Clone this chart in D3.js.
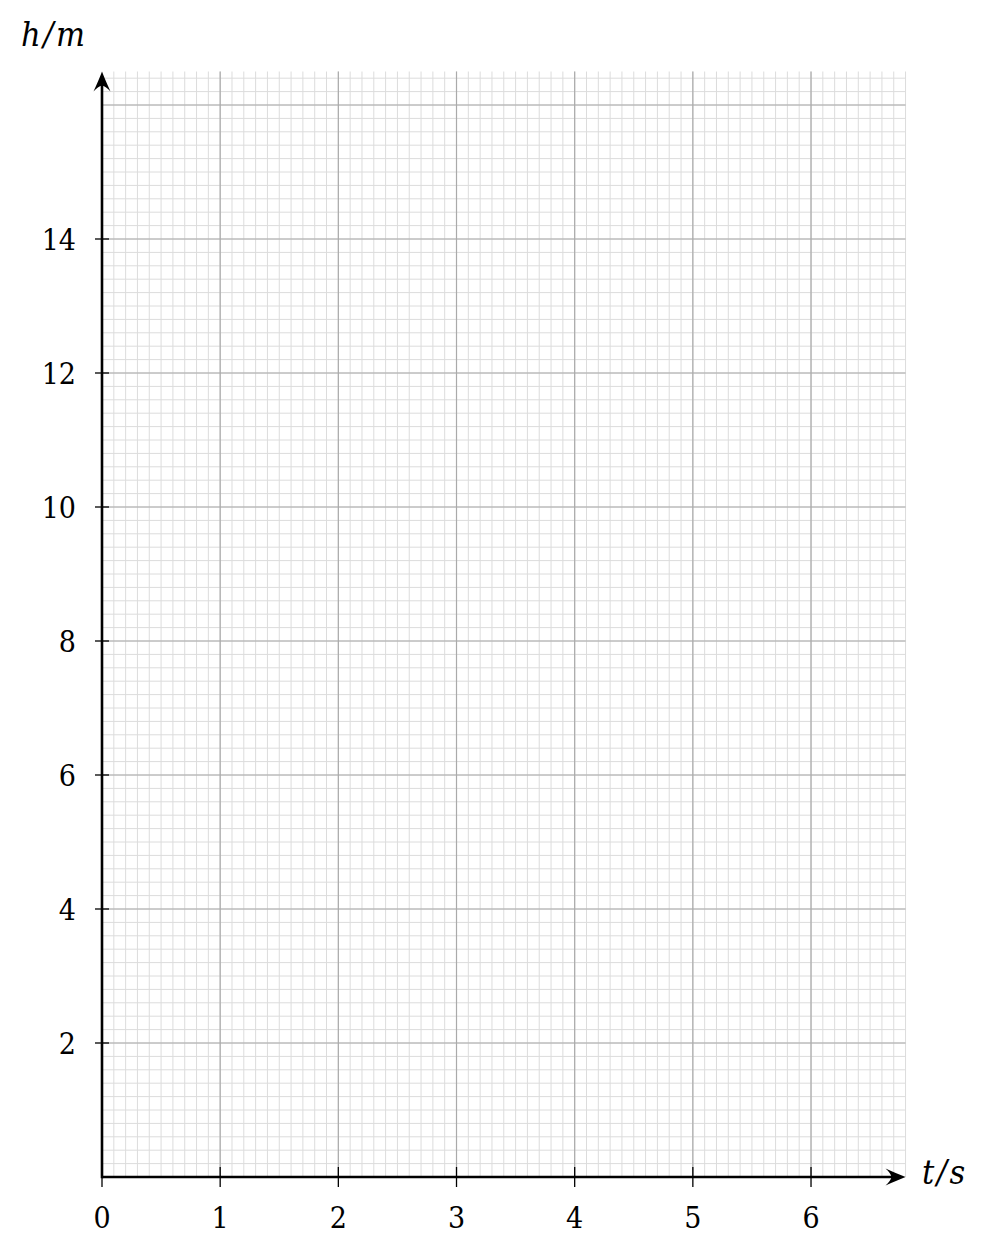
<!DOCTYPE html>
<html><head><meta charset="utf-8">
<script src="https://cdn.jsdelivr.net/npm/d3@7"></script>
<style>body{margin:0;background:#fff}svg{display:block}</style>
</head><body>
<script>
// Data
const xTickValues = [0, 1, 2, 3, 4, 5, 6];
const yTickValues = [2, 4, 6, 8, 10, 12, 14];
const xDomain = [0, 6.8];
const yDomain = [0, 16.5];
const xMinorStep = 0.1, yMinorStep = 0.2;
const xMajorStep = 1, yMajorStep = 2;
const xLabel = "t/s", yLabel = "h/m";

const W = 989, H = 1250;
const svg = d3.select("body").append("svg").attr("width", W).attr("height", H);
const x = d3.scaleLinear().domain(xDomain).range([102, 102 + 6.8 * 118.17]);
const y = d3.scaleLinear().domain(yDomain).range([1177, 1177 - 16.5 * 67]);

const [x0, x1] = x.range(), [y0, y1] = y.range();
const font = "'DejaVu Serif Condensed', 'DejaVu Serif'";

function steps(max, step) {
  const n = Math.floor(max / step + 1e-6), a = [];
  for (let i = 1; i <= n; i++) a.push(+(i * step).toFixed(4));
  return a;
}
const xMinor = steps(xDomain[1], xMinorStep);
const yMinor = steps(yDomain[1], yMinorStep);
const xMajor = steps(xDomain[1], xMajorStep);
const yMajor = steps(yDomain[1], yMajorStep);

const g = svg.append("g");
g.selectAll(".vm").data(xMinor).join("line")
  .attr("x1", d => x(d)).attr("x2", d => x(d)).attr("y1", y0).attr("y2", y1)
  .attr("stroke", "#dcdcdc").attr("stroke-width", 1);
g.selectAll(".hm").data(yMinor).join("line")
  .attr("y1", d => y(d)).attr("y2", d => y(d)).attr("x1", x0).attr("x2", x1)
  .attr("stroke", "#dcdcdc").attr("stroke-width", 1);
g.selectAll(".vM").data(xMajor).join("line")
  .attr("x1", d => x(d)).attr("x2", d => x(d)).attr("y1", y0).attr("y2", y1)
  .attr("stroke", "#aaaaaa").attr("stroke-width", 1.2);
g.selectAll(".hM").data(yMajor).join("line")
  .attr("y1", d => y(d)).attr("y2", d => y(d)).attr("x1", x0).attr("x2", x1)
  .attr("stroke", "#aaaaaa").attr("stroke-width", 1.2);

// ticks
svg.selectAll(".xt").data(xTickValues).join("line")
  .attr("x1", d => x(d)).attr("x2", d => x(d)).attr("y1", d => d === 0 ? y0 : y0 - 10).attr("y2", y0 + 10)
  .attr("stroke", "#000").attr("stroke-width", 1.3);
svg.selectAll(".yt").data(yTickValues).join("line")
  .attr("y1", d => y(d)).attr("y2", d => y(d)).attr("x1", x0 - 7).attr("x2", x0 + 7)
  .attr("stroke", "#000").attr("stroke-width", 1.3);

// axes
svg.append("line").attr("x1", x0).attr("x2", x1 - 6).attr("y1", y0).attr("y2", y0)
  .attr("stroke", "#000").attr("stroke-width", 2.6);
svg.append("line").attr("x1", x0).attr("x2", x0).attr("y1", y0 + 1.3).attr("y2", y1 + 6)
  .attr("stroke", "#000").attr("stroke-width", 2.6);

// arrowheads
const tip = "M0,0 Q-8,-3 -20,-8.5 Q-15,-4 -14,0 Q-15,4 -20,8.5 Q-8,3 0,0 Z";
svg.append("path").attr("d", tip).attr("fill", "#000")
  .attr("transform", `translate(${x1},${y0})`);
svg.append("path").attr("d", tip).attr("fill", "#000")
  .attr("transform", `translate(${x0},${y1}) rotate(-90)`);

// tick labels
svg.selectAll(".xl").data(xTickValues).join("text")
  .attr("x", d => x(d)).attr("y", 1228).attr("text-anchor", "middle")
  .attr("font-family", font).attr("font-size", 30).text(d => d);
svg.selectAll(".yl").data(yTickValues).join("text")
  .attr("x", 76).attr("y", d => y(d) + 11).attr("text-anchor", "end")
  .attr("font-family", font).attr("font-size", 30).text(d => d);

// axis labels
svg.append("text").attr("x", 922).attr("y", 1184).attr("font-style", "italic")
  .attr("font-family", font).attr("font-size", 34).attr("letter-spacing", 2.5).text(xLabel);
svg.append("text").attr("x", 21).attr("y", 46).attr("font-style", "italic")
  .attr("font-family", font).attr("font-size", 34).attr("letter-spacing", 2.5).text(yLabel);
</script>
</body></html>
